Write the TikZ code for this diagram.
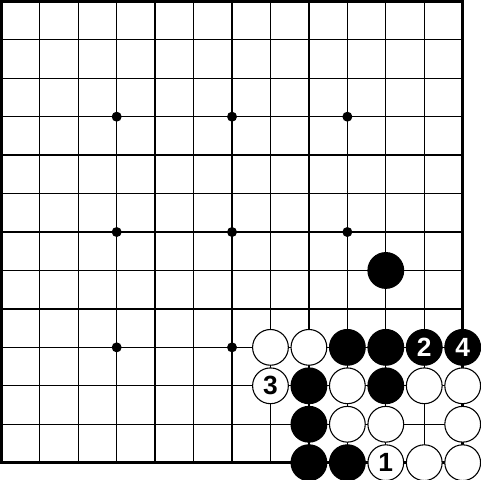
\documentclass[tikz,border=0pt]{standalone}
\usepackage{fontspec}
\newfontfamily\stonefont{Liberation Sans}
\usetikzlibrary{positioning}
\tikzset{
    %Define style for the board
    gridline/.style={
           draw=black,
           line width=1pt},
    edge/.style={
           draw=black,
           line width=2.2pt},
    hoshi/.style={
           circle,
           fill=black,
           inner sep=0pt,
           minimum size=0.26cm},
    %Define style for stones
    blackstone/.style={
           circle,
           draw=black, line width=0.8pt,
           fill=black,
           inner sep=0pt,
           minimum size=0.93cm,
           font=\stonefont\bfseries\fontsize{19.5}{19.5}\selectfont,
           text=white,
           text centered},
    whitestone/.style={
           circle,
           draw=black, line width=0.8pt,
           fill=white,
           inner sep=0pt,
           minimum size=0.93cm,
           font=\stonefont\bfseries\fontsize{19.5}{19.5}\selectfont,
           text=black,
           text centered}
}
\begin{document}
\begin{tikzpicture}
\useasboundingbox (-0.035,-0.45) rectangle (12.45,12.035);
% board
\draw[gridline] (0,0) grid (12,12);
\draw[edge] (0,0) rectangle (12,12);
\foreach \x in {3,6,9}
  \foreach \y in {3,6,9}
    \node[hoshi] (h-\x-\y) at (\x,\y) {};
% black stones
\node[blackstone] (b-10-5) at (10,5) {};
\node[blackstone] (b-9-3) at (9,3) {};
\node[blackstone] (b-10-3) at (10,3) {};
\node[blackstone] (b2) at (11,3) {2};
\node[blackstone] (b4) at (12,3) {4};
\node[blackstone] (b-8-2) at (8,2) {};
\node[blackstone] (b-10-2) at (10,2) {};
\node[blackstone] (b-8-1) at (8,1) {};
\node[blackstone] (b-8-0) at (8,0) {};
\node[blackstone] (b-9-0) at (9,0) {};
% white stones
\node[whitestone] (w-7-3) at (7,3) {};
\node[whitestone] (w-8-3) at (8,3) {};
\node[whitestone] (w3) at (7,2) {3};
\node[whitestone] (w-9-2) at (9,2) {};
\node[whitestone] (w-11-2) at (11,2) {};
\node[whitestone] (w-12-2) at (12,2) {};
\node[whitestone] (w-9-1) at (9,1) {};
\node[whitestone] (w-10-1) at (10,1) {};
\node[whitestone] (w-12-1) at (12,1) {};
\node[whitestone] (w1) at (10,0) {1};
\node[whitestone] (w-11-0) at (11,0) {};
\node[whitestone] (w-12-0) at (12,0) {};
\end{tikzpicture}
\end{document}
